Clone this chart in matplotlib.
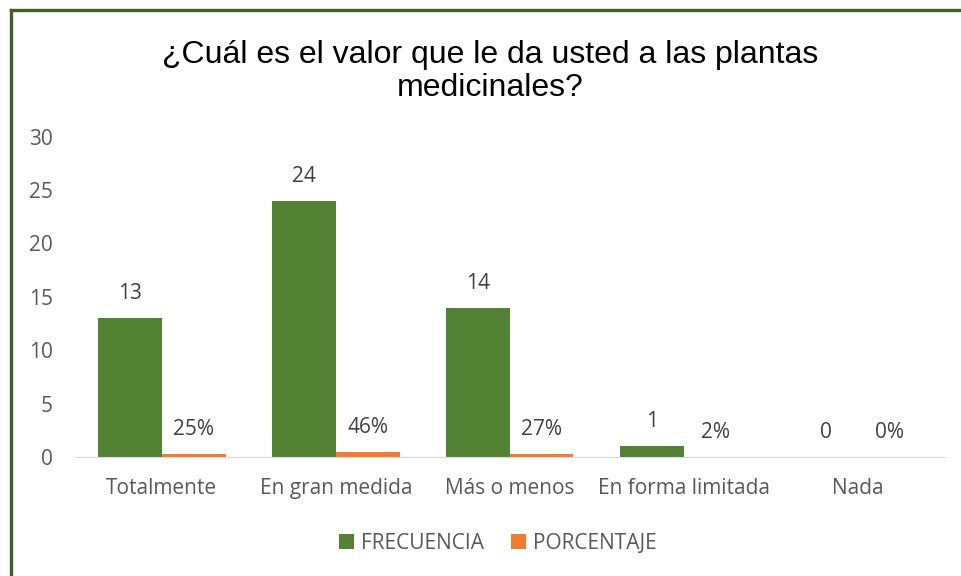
import numpy as np
import matplotlib.pyplot as plt
from matplotlib.lines import Line2D

# Data
categorias = ['Totalmente', 'En gran medida', 'Más o menos', 'En forma limitada', 'Nada']
frecuencia = [13, 24, 14, 1, 0]
porcentaje = [0.25, 0.46, 0.27, 0.02, 0.0]
etiquetas_pct = ['25%', '46%', '27%', '2%', '0%']
yticks = [0, 5, 10, 15, 20, 25, 30]

verde = '#548235'
naranja = '#ED7D31'
gris = '#595959'
fuente = ['Open Sans', 'DejaVu Sans']
tam = 15

fig = plt.figure(figsize=(9.61, 5.76), dpi=100)
ax = fig.add_axes([0.078, 0.2066, 0.905, 0.556])

x = np.arange(len(categorias))
w = 0.366
ax.bar(x - w / 2, frecuencia, w, color=verde, label='FRECUENCIA')
ax.bar(x + w / 2, porcentaje, w, color=naranja, label='PORCENTAJE')

for i in range(len(categorias)):
    ax.text(x[i] - w / 2, frecuencia[i] + 1.3, str(frecuencia[i]), ha='center', va='bottom',
            fontsize=tam, color='#404040', family=fuente)
    ax.text(x[i] + w / 2, porcentaje[i] + 1.3, etiquetas_pct[i], ha='center', va='bottom',
            fontsize=tam, color='#404040', family=fuente)

ax.set_xlim(-0.5, len(categorias) - 0.5)
ax.set_ylim(0, 30)
ax.set_yticks(yticks)
ax.set_xticks(x)
ax.set_xticklabels(categorias)
for lab in ax.get_xticklabels() + ax.get_yticklabels():
    lab.set_family(fuente)
    lab.set_fontsize(tam)
    lab.set_color(gris)
ax.tick_params(length=0)
ax.tick_params(axis='x', pad=15)
ax.tick_params(axis='y', pad=16)
for s in ['top', 'right', 'left']:
    ax.spines[s].set_visible(False)
ax.spines['bottom'].set_color('#d9d9d9')

fig.text(0.51, 0.876, '¿Cuál es el valor que le da usted a las plantas\nmedicinales?',
         ha='center', va='center', fontsize=23, family='Liberation Sans',
         color='black', linespacing=1.15)

ax.legend(loc='center', bbox_to_anchor=(0.486, -0.27), ncol=2, frameon=False,
          handlelength=0.75, handleheight=0.75, handletextpad=0.3, columnspacing=1.3,
          prop={'family': fuente, 'size': tam}, labelcolor=gris)

# dark green border (top and left)
fig.add_artist(Line2D([0.0114, 1.0], [0.983, 0.983], color='#3e5f26', lw=2.4,
                      transform=fig.transFigure))
fig.add_artist(Line2D([0.0114, 0.0114], [0.0, 0.983], color='#3e5f26', lw=2.4,
                      transform=fig.transFigure))

fig.savefig('out.png', dpi=100)
